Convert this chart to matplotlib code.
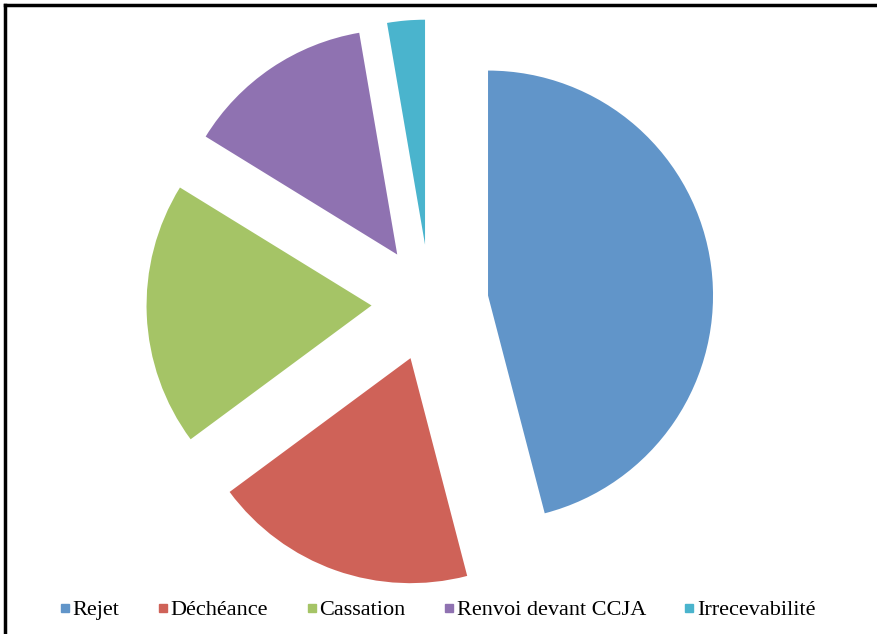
import matplotlib.pyplot as plt
from matplotlib.lines import Line2D

categories = ["Rejet", "Déchéance", "Cassation", "Renvoi devant CCJA", "Irrecevabilité"]
counts = [17, 7, 7, 5, 1]
colors = ["#6195C9", "#CF6258", "#A5C466", "#8F72B1", "#4AB4CD"]

plt.rcParams["font.family"] = ["Liberation Serif", "DejaVu Serif"]

fig = plt.figure(figsize=(8.78, 6.34), dpi=100)
ax = fig.add_axes([0, 0, 1, 1])

ax.pie(
    counts,
    colors=colors,
    startangle=90,
    counterclock=False,
    explode=[0.26] * len(counts),
    radius=1.0,
    wedgeprops={"linewidth": 0},
)

# 1 data unit = 225 px, pie centre at (430, 303) px from top-left
r_px = 225.0
ax.set_xlim(-430 / r_px, (878 - 430) / r_px)
ax.set_ylim(-(634 - 303) / r_px, 303 / r_px)
ax.set_aspect("auto")
ax.axis("off")

handles = [
    Line2D([], [], marker="s", linestyle="none", markersize=5.5,
           markerfacecolor=c, markeredgecolor=c)
    for c in colors
]
fig.legend(
    handles,
    categories,
    loc="center",
    bbox_to_anchor=(0.499, 1 - 610 / 634),
    ncol=5,
    frameon=False,
    fontsize=16,
    handlelength=0.4,
    handletextpad=0.15,
    columnspacing=1.75,
)

# frame lines along top and left edges
fig.add_artist(Line2D([5 / 878, 5 / 878], [0, 1 - 5 / 634], transform=fig.transFigure,
                      color="black", linewidth=2.5))
fig.add_artist(Line2D([5 / 878, 1], [1 - 5 / 634, 1 - 5 / 634], transform=fig.transFigure,
                      color="black", linewidth=2.5))

fig.savefig("out.png", dpi=100)
